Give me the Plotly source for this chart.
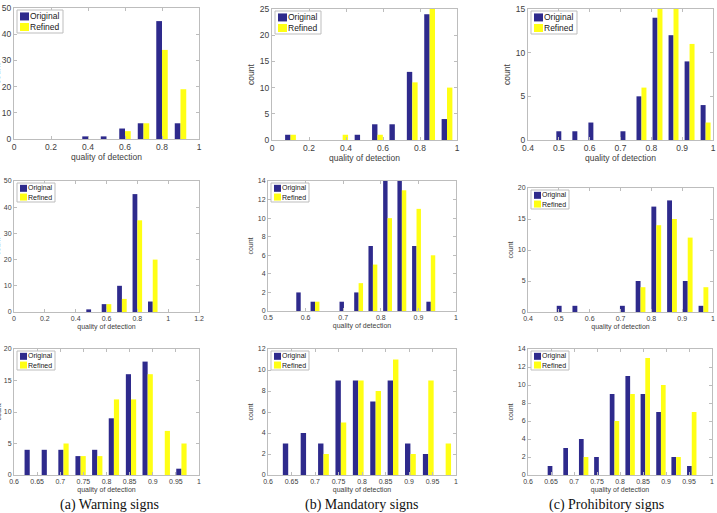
import plotly.graph_objects as go
import numpy as np

# ---------------- data (bin centers and counts) ----------------
# Row 1
warn1_centers = [0.4, 0.5, 0.6, 0.7, 0.8, 0.9]
warn1_original = [1, 1, 4, 6, 45, 6]
warn1_refined = [0, 0, 3, 6, 34, 19]

mand1_centers = [0.100, 0.194, 0.288, 0.382, 0.476, 0.570, 0.664, 0.758, 0.852, 0.946]
mand1_original = [1, 0, 0, 0, 1, 3, 3, 13, 24, 4]
mand1_refined = [1, 0, 0, 1, 0, 1, 0, 11, 25, 10]

proh1_centers = [0.508, 0.560, 0.612, 0.664, 0.716, 0.768, 0.820, 0.872, 0.924, 0.976]
proh1_original = [1, 1, 2, 0, 1, 5, 14, 12, 9, 4]
proh1_refined = [0, 0, 0, 0, 0, 6, 15, 15, 11, 2]

# Row 2
warn2_centers = [0.5, 0.6, 0.7, 0.8, 0.9]
warn2_original = [1, 3, 10, 45, 4]
warn2_refined = [0, 3, 5, 35, 20]

mand2_centers = [0.587, 0.625, 0.664, 0.702, 0.741, 0.779, 0.818, 0.856, 0.895, 0.933]
mand2_original = [2, 1, 0, 1, 2, 7, 14, 14, 7, 1]
mand2_refined = [0, 1, 0, 0, 3, 5, 10, 13, 11, 6]

proh2_centers = [0.509, 0.560, 0.611, 0.663, 0.714, 0.765, 0.816, 0.867, 0.918, 0.969]
proh2_original = [1, 1, 0, 0, 1, 5, 17, 18, 5, 1]
proh2_refined = [0, 0, 0, 0, 0, 4, 14, 15, 12, 4]

# Row 3
warn3_centers = [0.634, 0.671, 0.707, 0.744, 0.780, 0.816, 0.853, 0.889, 0.926, 0.962]
warn3_original = [4, 4, 4, 3, 4, 9, 16, 18, 0, 1]
warn3_refined = [0, 0, 5, 3, 3, 12, 12, 16, 7, 5]

mand3_centers = [0.643, 0.681, 0.718, 0.755, 0.792, 0.829, 0.866, 0.903, 0.941, 0.978]
mand3_original = [3, 4, 3, 9, 9, 7, 9, 3, 2, 0]
mand3_refined = [0, 0, 2, 5, 9, 8, 11, 2, 9, 3]

proh3_centers = [0.653, 0.687, 0.721, 0.754, 0.788, 0.822, 0.855, 0.889, 0.922, 0.956]
proh3_original = [1, 3, 4, 2, 9, 11, 9, 7, 2, 1]
proh3_refined = [0, 0, 2, 0, 6, 9, 13, 10, 2, 7]

series_names = ["Original", "Refined"]
captions = ["(a) Warning signs", "(b) Mandatory signs", "(c) Prohibitory signs"]
x_title = "quality of detection"
y_title = "count"

# ---------------- layout config ----------------
W, H = 717, 513
COL_ORIG = "#2E2A8C"
COL_REF = "#FFFF14"
FRAME = "#BDBDBD"
TXT = "#404040"

panels = [
    # data, pixel box (x0,x1,y0,y1), xrange, dtick x, yrange, dtick y, font size, legend size (w,h)
    (warn1_centers, warn1_original, warn1_refined, (14, 199, 8, 139), (0, 1), 0.2, 50, 10, 8.5, (46, 23)),
    (mand1_centers, mand1_original, mand1_refined, (272, 457, 9, 140), (0, 1), 0.2, 25, 5, 8.5, (46, 23)),
    (proh1_centers, proh1_original, proh1_refined, (528, 713, 9, 140), (0.4, 1), 0.1, 15, 5, 8.5, (46, 23)),
    (warn2_centers, warn2_original, warn2_refined, (14, 199, 181, 312), (0, 1.2), 0.2, 50, 10, 7, (38, 19)),
    (mand2_centers, mand2_original, mand2_refined, (268, 456, 181, 311), (0.5, 1), 0.1, 14, 2, 7, (38, 19)),
    (proh2_centers, proh2_original, proh2_refined, (528, 713, 188, 312), (0.4, 1), 0.1, 20, 5, 7, (38, 19)),
    (warn3_centers, warn3_original, warn3_refined, (14, 199, 349, 475), (0.6, 1), 0.05, 20, 5, 7, (38, 19)),
    (mand3_centers, mand3_original, mand3_refined, (268, 456, 349, 475), (0.6, 1), 0.05, 12, 2, 7, (38, 19)),
    (proh3_centers, proh3_original, proh3_refined, (528, 712, 349, 475), (0.6, 1), 0.05, 14, 2, 7, (38, 19)),
]

fig = go.Figure()
layout = dict(
    width=W, height=H,
    margin=dict(l=0, r=0, t=0, b=0, autoexpand=False),
    paper_bgcolor="white", plot_bgcolor="white",
    font=dict(family="Liberation Sans, Arial, sans-serif", color=TXT),
    barmode="overlay", showlegend=False,
)

axis_common = dict(
    showgrid=False, zeroline=False, showline=True, mirror="ticks",
    linecolor=FRAME, linewidth=1, ticks="inside", ticklen=3,
    tickcolor=FRAME, automargin=False,
)


def px(x):
    return x / W


def py(y):
    return 1 - y / H


shapes = []
annotations = []

for i, (cx, orig, ref, box, xr, xdt, ymax, ydt, fs, lsz) in enumerate(panels):
    n = i + 1
    suffix = "" if n == 1 else str(n)
    x0, x1, y0, y1 = box
    cx = np.array(cx)
    spacing = np.min(np.diff(cx))
    bw = 0.31 * spacing
    for name, vals, col, off in [(series_names[0], orig, COL_ORIG, -bw),
                                 (series_names[1], ref, COL_REF, 0.0)]:
        fig.add_trace(go.Bar(
            x=cx, y=vals, name=name, width=bw, offset=off,
            marker=dict(color=col, line=dict(width=0)),
            xaxis="x" + suffix, yaxis="y" + suffix,
        ))
    first_col = x0 < 100
    layout["xaxis" + suffix] = dict(
        axis_common, domain=[px(x0), px(x1)], range=list(xr), dtick=xdt,
        tick0=0, anchor="y" + suffix, tickfont=dict(size=fs, color=TXT),
        title=dict(text=x_title, font=dict(size=fs, color=TXT), standoff=2),
    )
    ydict = dict(
        axis_common, domain=[py(y1), py(y0)], range=[0, ymax], dtick=ydt,
        tick0=0, anchor="x" + suffix, tickfont=dict(size=fs, color=TXT),
    )
    if first_col:
        # the y label of the left column sits mostly outside the page
        annotations.append(dict(
            text=y_title, x=px(-2.5), y=py((y0 + y1) / 2), xref="paper", yref="paper",
            xanchor="center", yanchor="middle", textangle=-90, showarrow=False,
            font=dict(size=fs, color=TXT),
        ))
    else:
        ydict["title"] = dict(text=y_title, font=dict(size=fs, color=TXT), standoff=3)
    layout["yaxis" + suffix] = ydict

    # compact legend box (MATLAB style)
    lw, lh = lsz
    lx0, ly0 = x0 + 3, y0 + 2
    shapes.append(dict(type="rect", xref="paper", yref="paper",
                       x0=px(lx0), x1=px(lx0 + lw), y0=py(ly0 + lh), y1=py(ly0),
                       fillcolor="white", line=dict(color=FRAME, width=1), layer="above"))
    sw = 9 if fs > 8 else 7
    sh = 8 if fs > 8 else 7
    for k, (name, col) in enumerate([(series_names[0], COL_ORIG), (series_names[1], COL_REF)]):
        cy = ly0 + lh * (0.28 + 0.46 * k)
        shapes.append(dict(type="rect", xref="paper", yref="paper",
                           x0=px(lx0 + 3), x1=px(lx0 + 3 + sw),
                           y0=py(cy + sh / 2), y1=py(cy - sh / 2),
                           fillcolor=col, line=dict(width=0), layer="above"))
        annotations.append(dict(
            text=name, x=px(lx0 + 3 + sw), y=py(cy), xref="paper", yref="paper",
            xanchor="left", yanchor="middle", showarrow=False, borderpad=0,
            font=dict(size=fs, color="#202020"),
        ))

caption_x = [109, 362, 606]
for cap, cxp in zip(captions, caption_x):
    annotations.append(dict(
        text=cap, x=px(cxp), y=py(505), xref="paper", yref="paper",
        xanchor="center", yanchor="middle", showarrow=False,
        font=dict(family="Liberation Serif, Times New Roman, serif", size=14, color="#111111"),
    ))

layout["shapes"] = shapes
layout["annotations"] = annotations

fig.update_layout(**layout)
fig.write_html("out.html")
